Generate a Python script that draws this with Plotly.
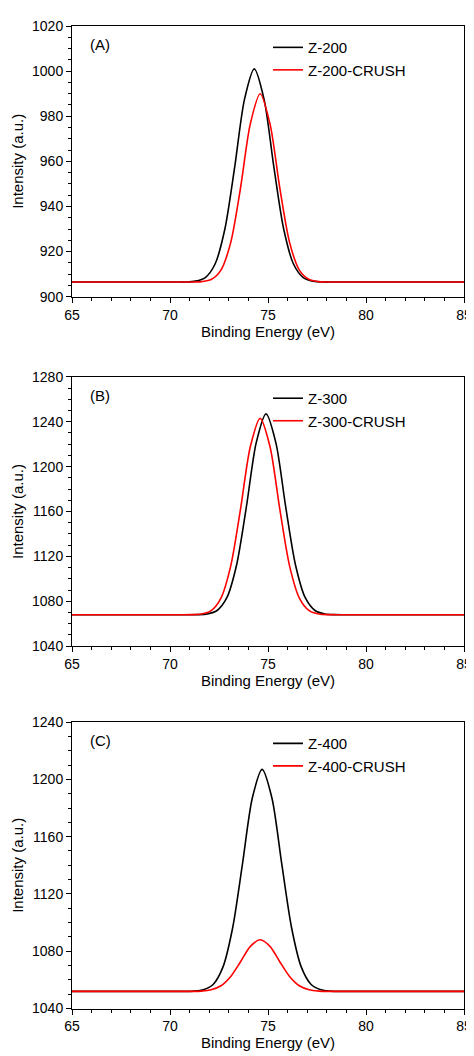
import plotly.graph_objects as go

# Panel A
xa1 = [65, 70.3, 70.8, 71.3, 71.8, 72.3, 72.8, 73.3, 73.8, 74.3, 74.8, 75.3, 75.8, 76.3, 76.8, 77.3, 77.8, 78.3, 85]
ya1 = [906.5, 906.5, 906.5, 906.9, 908.5, 914.5, 930.0, 957.4, 987.5, 1001, 987.5, 957.4, 930.0, 914.5, 908.5, 906.9, 906.5, 906.5, 906.5]
xa2 = [65, 70.6, 71.1, 71.6, 72.1, 72.6, 73.1, 73.6, 74.1, 74.6, 75.1, 75.6, 76.1, 76.6, 77.1, 77.6, 78.1, 78.6, 85]
ya2 = [906.5, 906.5, 906.5, 906.7, 907.6, 911.8, 924.1, 948.3, 976.7, 990, 976.7, 948.3, 924.1, 911.8, 907.6, 906.7, 906.5, 906.5, 906.5]
# Panel B
xb1 = [65, 70.9, 71.4, 71.9, 72.4, 72.9, 73.4, 73.9, 74.4, 74.9, 75.4, 75.9, 76.4, 76.9, 77.4, 77.9, 78.4, 78.9, 85]
yb1 = [1068, 1068, 1068.1, 1068.7, 1071.8, 1083.2, 1112.6, 1164.5, 1221.4, 1247, 1221.4, 1164.5, 1112.6, 1083.2, 1071.8, 1068.7, 1068.1, 1068, 1068]
xb2 = [65, 70.6, 71.1, 71.6, 72.1, 72.6, 73.1, 73.6, 74.1, 74.6, 75.1, 75.6, 76.1, 76.6, 77.1, 77.6, 78.1, 78.6, 85]
yb2 = [1068, 1068, 1068.1, 1068.7, 1071.7, 1082.9, 1111.6, 1162.3, 1218.0, 1243, 1218.0, 1162.3, 1111.6, 1082.9, 1071.7, 1068.7, 1068.1, 1068, 1068]
# Panel C
xc1 = [65, 70.7, 71.2, 71.7, 72.2, 72.7, 73.2, 73.7, 74.2, 74.7, 75.2, 75.7, 76.2, 76.7, 77.2, 77.7, 78.2, 78.7, 85]
yc1 = [1052, 1052, 1052.2, 1053.1, 1056.8, 1068.9, 1096.6, 1141.1, 1187.0, 1207, 1187.0, 1141.1, 1096.6, 1068.9, 1056.8, 1053.1, 1052.2, 1052, 1052]
xc2 = [65, 70.6, 71.1, 71.6, 72.1, 72.6, 73.1, 73.6, 74.1, 74.6, 75.1, 75.6, 76.1, 76.6, 77.1, 77.6, 78.1, 78.6, 85]
yc2 = [1052, 1052, 1052.0, 1052.2, 1053.1, 1055.9, 1062.4, 1072.7, 1083.4, 1088, 1083.4, 1072.7, 1062.4, 1055.9, 1053.1, 1052.2, 1052.0, 1052, 1052]

panels = [
    ("(A)", "Z-200", xa1, ya1, "Z-200-CRUSH", xa2, ya2, [900, 1020], 20, [0.7346, 1.0]),
    ("(B)", "Z-300", xb1, yb1, "Z-300-CRUSH", xb2, yb2, [1040, 1280], 40, [0.392, 0.656]),
    ("(C)", "Z-400", xc1, yc1, "Z-400-CRUSH", xc2, yc2, [1040, 1240], 40, [0.0367, 0.3176]),
]

fig = go.Figure()
axis_style = dict(showline=True, linecolor="black", linewidth=1, mirror=True,
                  ticks="outside", ticklen=5, tickcolor="black", showgrid=False, zeroline=False,
                  minor=dict(ticks="outside", ticklen=3, tickcolor="black"),
                  tickfont=dict(size=14, color="black"))
for i, (tag, n1, x1, y1, n2, x2, y2, yr, dt, dom) in enumerate(panels):
    s = "" if i == 0 else str(i + 1)
    leg = "legend" + s
    line_shape = dict(width=1.6, shape="spline", smoothing=0.8)
    fig.add_trace(go.Scatter(x=x1, y=y1, name=n1, mode="lines", line=dict(line_shape, color="black"),
                             xaxis="x" + s, yaxis="y" + s, legend=leg))
    fig.add_trace(go.Scatter(x=x2, y=y2, name=n2, mode="lines", line=dict(line_shape, color="red"),
                             xaxis="x" + s, yaxis="y" + s, legend=leg))
    fig.update_layout(**{
        "xaxis" + s: dict(axis_style, range=[65, 85], dtick=5, anchor="y" + s,
                          title=dict(text="Binding Energy (eV)", font=dict(size=15, color="black"), standoff=4)),
        "yaxis" + s: dict(axis_style, range=yr, dtick=dt, domain=dom, anchor="x" + s,
                          title=dict(text="Intensity (a.u.)", font=dict(size=15, color="black"), standoff=4)),
        leg: dict(x=0.5, y=dom[1] - 0.005, xanchor="left", yanchor="top", bgcolor="rgba(0,0,0,0)",
                  font=dict(size=15, color="black"), tracegroupgap=0),
    })
    fig.add_annotation(text=tag, xref="paper", yref="paper", x=0.04, y=dom[1] - 0.008,
                       xanchor="left", yanchor="top", showarrow=False, font=dict(size=15, color="black"))

fig.update_layout(width=474, height=1056, margin=dict(l=60, r=14, t=10, b=10),
                  plot_bgcolor="white", paper_bgcolor="white",
                  font=dict(family="Liberation Sans, Arial", color="black"))
fig.write_html("out.html")
